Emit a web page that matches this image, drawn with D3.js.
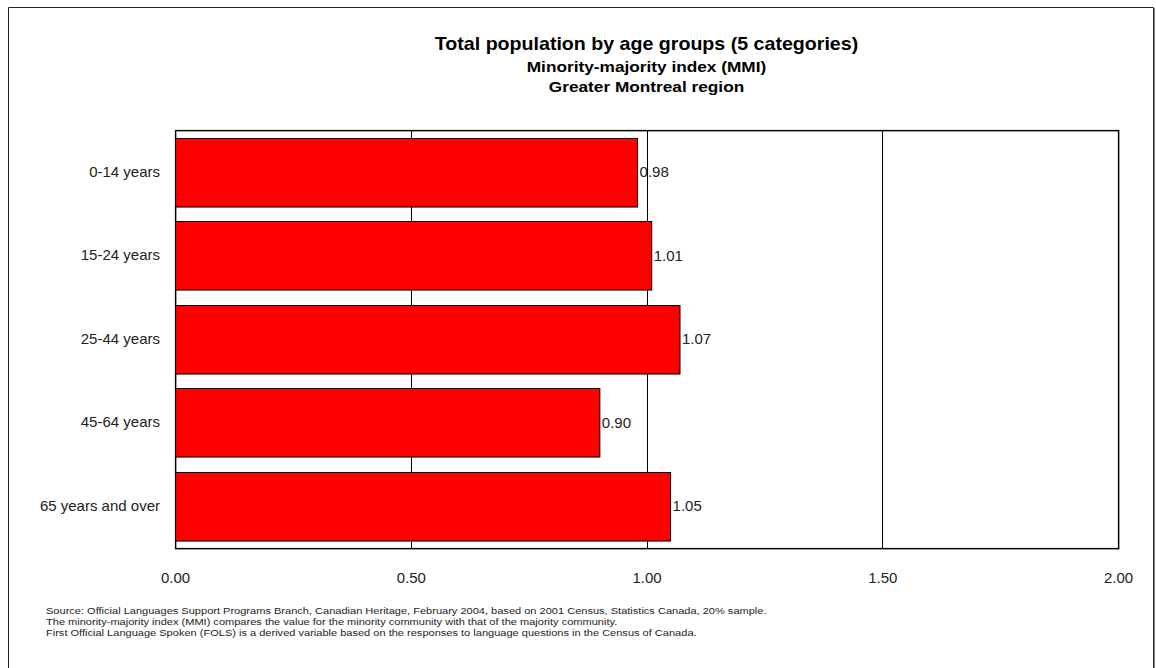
<!DOCTYPE html>
<html>
<head>
<meta charset="utf-8">
<script src="https://cdn.jsdelivr.net/npm/d3@7"></script>
<style>
  body { margin: 0; background: #fff; }
  svg { font-family: "Liberation Sans", Arial, sans-serif; }
</style>
</head>
<body>
<div class="chart"></div>
<script>
// Data
const categories = ['0-14 years', '15-24 years', '25-44 years', '45-64 years', '65 years and over'];
const values = [0.98, 1.01, 1.07, 0.90, 1.05];
const tickValues = [0, 0.5, 1.0, 1.5, 2.0];
const titleLines = ['Total population by age groups (5 categories)', 'Minority-majority index (MMI)', 'Greater Montreal region'];
const notes = [
    'Source:  Official Languages Support Programs Branch, Canadian Heritage, February 2004, based on 2001 Census, Statistics Canada, 20% sample.',
    'The minority-majority index (MMI) compares the value for the minority community with that of the majority community.',
    'First Official Language Spoken (FOLS) is a derived variable based on the responses to language questions in the Census of Canada.'
];

// Dimensions
const W = 1156, H = 668;
const margin = { top: 130, right: 38, bottom: 120, left: 175 },
    width = W - margin.left - margin.right,
    height = H - margin.top - margin.bottom;

const svg = d3.select('.chart')
    .append('svg')
        .attr('width', W)
        .attr('height', H);

// Outer frame (bottom edge is off-page)
svg.append('path')
    .attr('d', `M8.5,${H + 2} V7.5 H1153.5 V${H + 2}`)
    .attr('fill', 'none')
    .attr('stroke', '#222')
    .attr('stroke-width', 1);
svg.append('line')
    .attr('x1', 1154.5).attr('x2', 1154.5).attr('y1', 8).attr('y2', H)
    .attr('stroke', '#888');

// Scales
const x = d3.scaleLinear().domain([0, 2]).range([0, width]);
const y = d3.scaleBand().domain(categories).range([0, height]).paddingInner(0.18).paddingOuter(0.09);

const g = svg.append('g').attr('transform', `translate(${margin.left},${margin.top})`);

// Plot frame shadow
g.append('rect')
    .attr('x', 1).attr('y', 1)
    .attr('width', width).attr('height', height)
    .attr('fill', 'none')
    .attr('stroke', '#999')
    .attr('stroke-width', 1.5);

// Gridlines
g.append('g').attr('class', 'grid')
    .selectAll('line')
    .data(tickValues.slice(1, -1))
    .join('line')
        .attr('x1', d => Math.round(x(d)) + 0.5)
        .attr('x2', d => Math.round(x(d)) + 0.5)
        .attr('y1', 0)
        .attr('y2', height)
        .attr('stroke', '#000');

// Bars
g.append('g').attr('class', 'bars')
    .selectAll('rect')
    .data(values)
    .join('rect')
        .attr('x', 0.5)
        .attr('y', (d, i) => Math.round(y(categories[i])) + 0.5)
        .attr('width', d => x(d))
        .attr('height', y.bandwidth())
        .attr('fill', '#ff0000')
        .attr('stroke', '#000')
        .attr('stroke-width', 1);

// Value labels
g.append('g').attr('class', 'labels')
    .selectAll('text')
    .data(values)
    .join('text')
        .attr('x', d => x(d) + 2.5)
        .attr('y', (d, i) => y(categories[i]) + y.bandwidth() / 2)
        .attr('dy', '0.35em')
        .attr('font-size', 15)
        .attr('fill', '#222')
        .text(d => d3.format('.2f')(d));

// Plot frame
g.append('rect')
    .attr('x', 0.5).attr('y', 0.5)
    .attr('width', width).attr('height', height)
    .attr('fill', 'none')
    .attr('stroke', '#000')
    .attr('stroke-width', 1.2);

// Axes
const xAxis = g.append('g')
    .attr('transform', `translate(0,${height})`)
    .call(d3.axisBottom(x).tickValues(tickValues).tickFormat(d3.format('.2f')).tickSize(0).tickPadding(24));
xAxis.select('.domain').remove();
xAxis.selectAll('text').attr('font-size', 15).attr('fill', '#222').attr('font-family', null);

const yAxis = g.append('g')
    .call(d3.axisLeft(y).tickSize(0).tickPadding(15));
yAxis.select('.domain').remove();
yAxis.selectAll('text').attr('font-size', 15).attr('fill', '#222').attr('font-family', null);

// Titles (source text is slightly wide-set, hence the horizontal stretch)
const cx = margin.left + width / 2;
svg.append('g').attr('class', 'titles')
    .selectAll('text')
    .data(titleLines)
    .join('text')
        .attr('transform', (d, i) => `translate(${cx},${[50, 72, 92][i]}) scale(${i === 0 ? 1.09 : 1.15},1)`)
        .attr('text-anchor', 'middle')
        .attr('font-weight', 'bold')
        .attr('font-size', (d, i) => i === 0 ? 18 : 15)
        .text(d => d);

// Footnotes
svg.append('g').attr('class', 'notes')
    .selectAll('text')
    .data(notes)
    .join('text')
        .attr('transform', (d, i) => `translate(46,${614 + i * 11}) scale(1.2,1)`)
        .attr('font-size', 9.2)
        .attr('fill', '#222')
        .text(d => d);
</script>
</body>
</html>
